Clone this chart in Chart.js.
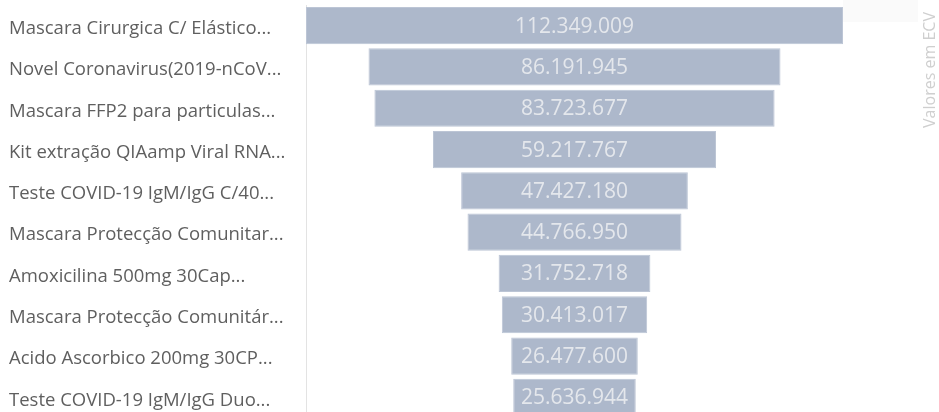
<!DOCTYPE html>
<html>
<head>
<meta charset="utf-8">
<script src="https://cdn.jsdelivr.net/npm/chart.js@4.4.1/dist/chart.umd.min.js"></script>
<style>
  html, body { margin: 0; padding: 0; background: #ffffff; overflow: hidden; }
  #wrap { width: 939px; height: 418px; position: relative; }
</style>
</head>
<body>
<div id="wrap"><canvas id="c"></canvas></div>
<script>
const categories = [
  'Mascara Cirurgica C/ Elástico...',
  'Novel Coronavirus(2019-nCoV...',
  'Mascara FFP2 para particulas...',
  'Kit extração QIAamp Viral RNA...',
  'Teste COVID-19 IgM/IgG C/40...',
  'Mascara Protecção Comunitar...',
  'Amoxicilina 500mg 30Cap...',
  'Mascara Protecção Comunitár...',
  'Acido Ascorbico 200mg 30CP...',
  'Teste COVID-19 IgM/IgG Duo...'
];
const values = [112349009, 86191945, 83723677, 59217767, 47427180, 44766950, 31752718, 30413017, 26477600, 25636944];
const axisTitle = 'Valores em ECV';

const maxV = Math.max(...values);
const ranges = values.map(v => [-v / 2, v / 2]);
function fmt(v) { return String(v).replace(/\B(?=(\d{3})+(?!\d))/g, '.'); }

const FONT = "'Open Sans', 'DejaVu Sans', sans-serif";

const valueLabels = {
  id: 'valueLabels',
  afterDatasetsDraw(chart) {
    const ctx = chart.ctx;
    const meta = chart.getDatasetMeta(0);
    ctx.save();
    ctx.font = "21px " + FONT;
    ctx.fillStyle = '#e4e7ec';
    ctx.textAlign = 'center';
    ctx.textBaseline = 'middle';
    meta.data.forEach((el, i) => {
      const cx = (el.x + el.base) / 2;
      ctx.fillText(fmt(values[i]), cx, el.y + 1);
    });
    ctx.restore();
  }
};

const sideTitle = {
  id: 'sideTitle',
  afterDraw(chart) {
    const ctx = chart.ctx;
    ctx.save();
    ctx.fillStyle = '#fafafa';
    ctx.fillRect(843, 0, 75, 22);
    ctx.translate(930, 70);
    ctx.rotate(-Math.PI / 2);
    ctx.font = "16px " + FONT;
    ctx.fillStyle = '#cfcfcf';
    ctx.textAlign = 'center';
    ctx.textBaseline = 'middle';
    ctx.fillText(axisTitle, 0, 0);
    ctx.restore();
  }
};

function build() {
  new Chart(document.getElementById('c'), {
    type: 'bar',
    data: {
      labels: categories,
      datasets: [{
        data: ranges,
        backgroundColor: '#adb8cb',
        borderColor: '#bcc5d5',
        borderWidth: 1,
        borderSkipped: false,
        barPercentage: 0.9,
        categoryPercentage: 1.0
      }]
    },
    options: {
      indexAxis: 'y',
      responsive: true,
      maintainAspectRatio: false,
      animation: false,
      layout: { padding: { left: 9, right: 96, top: 5, bottom: 0 } },
      plugins: { legend: { display: false }, tooltip: { enabled: false } },
      scales: {
        x: { display: false, min: -maxV / 2, max: maxV / 2 },
        y: {
          grid: { display: false },
          border: { display: true, color: '#e3e3e3', width: 1 },
          ticks: {
            crossAlign: 'far',
            color: '#5f5f5f',
            font: { family: FONT, size: 18.5 },
            padding: 0,
            labelOffset: 3
          },
          afterFit(scale) {
            scale.width = 297;
            scale.paddingTop = 0;
            scale.paddingBottom = 0;
          }
        }
      }
    },
    plugins: [valueLabels, sideTitle]
  });
}

Promise.all([
  document.fonts.load("18px 'Open Sans'"),
  document.fonts.load("21px 'Open Sans'")
]).then(build, build);
</script>
</body>
</html>
